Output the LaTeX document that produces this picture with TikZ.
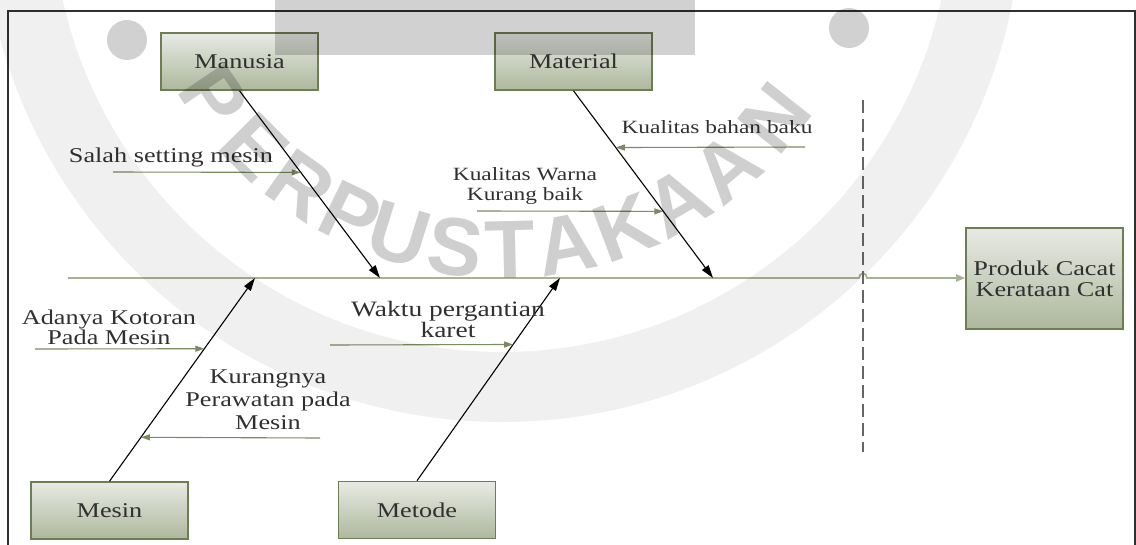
\documentclass[tikz,border=0pt]{standalone}
\usepackage{fontspec}
\setmainfont{Liberation Serif}[FakeStretch=1.25]
\newfontfamily\markfont{Liberation Sans}
\usetikzlibrary{arrows.meta,calc}

\definecolor{boxline}{HTML}{6E7D52}
\definecolor{boxtop}{HTML}{E8EAE4}
\definecolor{boxbot}{HTML}{ADB89C}
\definecolor{sage}{HTML}{7B8A60}
\definecolor{spinecol}{HTML}{A7B293}
\definecolor{ink}{HTML}{303030}
\definecolor{dashcol}{HTML}{666666}

\tikzset{
  cat/.style={draw=boxline, line width=1.6pt, top color=boxtop, bottom color=boxbot,
    minimum width=157pt, minimum height=57pt, inner sep=0pt,
    font=\fontsize{21}{21}\selectfont, text=ink, align=center},
  lbl/.style={font=\fontsize{21}{20}\selectfont, text=ink, align=center, inner sep=0pt},
  lblsm/.style={font=\fontsize{18.7}{20}\selectfont, text=ink, align=center, inner sep=0pt},
  bone/.style={draw=black, line width=1.1pt, -{Triangle[length=13pt,width=8pt]}},
  cause/.style={draw=sage, line width=1.1pt, -{Triangle[length=9pt,width=6pt]}},
  spineline/.style={draw=spinecol, line width=1.8pt, -{Triangle[length=9pt,width=7pt]}},
  wm/.style={font=\markfont\bfseries\fontsize{82}{82}\selectfont, text=black, text opacity=0.19, inner sep=0pt}
}

\begin{document}
\begin{tikzpicture}[x=1pt,y=-1pt]
\useasboundingbox (0,0) rectangle (1136,544);

% outer frame
\draw[ink, line width=1.2pt] (8,560) -- (8,11) -- (1135,11) -- (1135,560);

% category boxes and effect box
\node[cat] (man) at (239.5,61.5) {Manusia};
\node[cat] (mat) at (573.5,61.5) {Material};
\node[cat] (mes) at (109.5,510.5) {Mesin};
\node[cat] (met) at (417,510) {Metode};
\node[cat, minimum height=101pt] (prod) at (1044.5,278.5) {Produk Cacat\\Kerataan Cat};

% spine with a hop over the dashed line
\coordinate (spL) at (68,278);
\coordinate (hopL) at (859,278);
\coordinate (hopR) at (867,278);
\draw[spineline] (spL) -- (hopL) .. controls ($(hopL)+(0,-6)$) and ($(hopR)+(0,-6)$) .. (hopR) -- (prod.west |- spL);

% dashed divider
\coordinate (dT) at (863,100);
\coordinate (dB) at (863,452);
\draw[dashcol, line width=1.3pt, dash pattern=on 13pt off 6pt] (dT) -- (dB);

% main bones
\coordinate (jMan) at (380,278);
\coordinate (jMat) at (713,278);
\coordinate (jMes) at (255,278);
\coordinate (jMet) at (560,278);
\draw[bone] (man.south) -- (jMan);
\draw[bone] (mat.south) -- (jMat);
\draw[bone] (mes.north) -- (jMes);
\draw[bone] (met.north) -- (jMet);

% causes
\coordinate (c1) at (113,172);
\draw[cause] (c1) -- ($(man.south)!0.436!(jMan)$);
\node[lbl, anchor=base] (t1) at (171,162) {Salah setting mesin};

\coordinate (c2) at (805,147);
\draw[cause] (c2) -- ($(mat.south)!0.303!(jMat)$);
\node[lblsm, anchor=base] (t2) at (717,133) {Kualitas bahan baku};

\coordinate (c3) at (477,211);
\draw[cause] (c3) -- ($(mat.south)!0.644!(jMat)$);
\node[lblsm] (t3) at (525,186) {Kualitas Warna\\Kurang baik};

\coordinate (c4) at (35,349);
\draw[cause] (c4) -- ($(mes.north)!0.652!(jMes)$);
\node[lbl] (t4) at (109,327) {Adanya Kotoran\\Pada Mesin};

\coordinate (c5) at (320,438);
\draw[cause] (c5) -- ($(mes.north)!0.216!(jMes)$);
\node[lbl, font=\fontsize{21}{23}\selectfont] (t5) at (268,400) {Kurangnya\\Perawatan pada\\Mesin};

\coordinate (c6) at (330,345);
\draw[cause] (c6) -- ($(met.north)!0.672!(jMet)$);
\node[lbl, font=\fontsize{22}{21}\selectfont] (t6) at (448,319) {Waktu pergantian\\karet};

% library watermark
\fill[black, opacity=0.06, even odd rule] (502,-98) circle (520) (502,-98) circle (450);
\fill[black, opacity=0.18] (275,0) rectangle (695,55);
\fill[black, opacity=0.18] (127,40) circle (20);
\fill[black, opacity=0.18] (849,28) circle (20);
\foreach \ch/\ang [count=\i] in {P/145.9,E/135.2,R/125.3,P/115.9,U/107.2,S/97.7,
                                   T/88.7,A/79.3,K/69.3,A/59.7,A/49.8,N/38.4} {
  \node[wm, rotate={90-\ang}] (wm\i) at ({502+348*cos(\ang)},{-98+348*sin(\ang)}) {\ch};
}
\end{tikzpicture}
\end{document}
